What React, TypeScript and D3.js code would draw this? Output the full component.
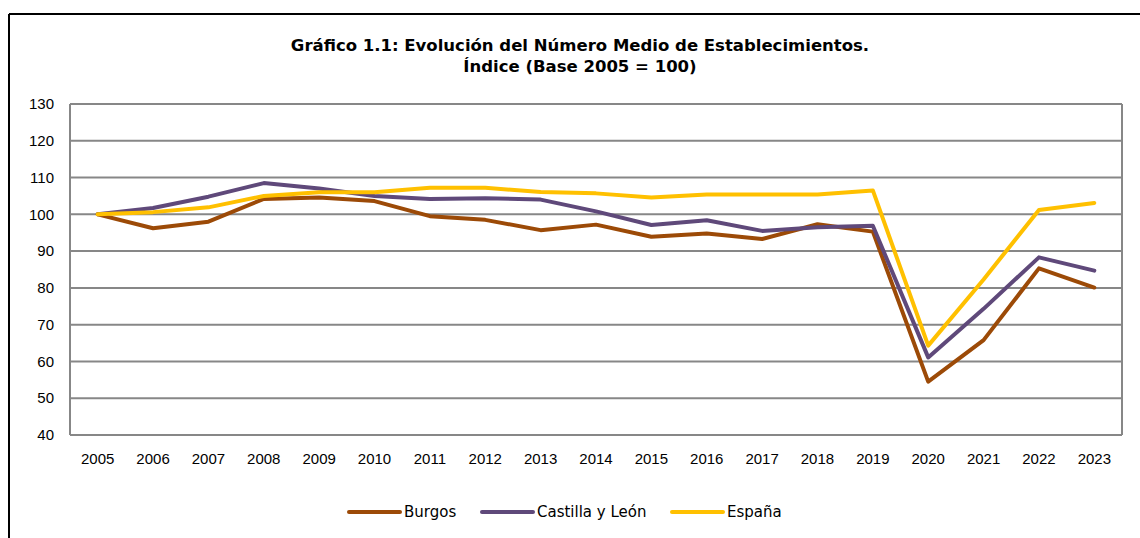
import React from "react";
import * as d3 from "d3";

const years = ["2005","2006","2007","2008","2009","2010","2011","2012","2013","2014","2015","2016","2017","2018","2019","2020","2021","2022","2023"];
const burgos = [100, 96.2, 98.0, 104.2, 104.6, 103.6, 99.5, 98.5, 95.7, 97.2, 93.9, 94.8, 93.3, 97.3, 95.3, 54.5, 65.8, 85.3, 80.1];
const castilla = [100, 101.7, 104.8, 108.5, 107.0, 105.0, 104.2, 104.4, 104.0, 100.8, 97.1, 98.4, 95.5, 96.5, 96.9, 61.1, 74.3, 88.3, 84.7];
const espana = [100, 100.6, 101.9, 105.0, 106.0, 106.0, 107.2, 107.2, 106.1, 105.7, 104.6, 105.4, 105.4, 105.4, 106.5, 64.3, 82.3, 101.2, 103.1];
const yTicks = [40, 50, 60, 70, 80, 90, 100, 110, 120, 130];
const seriesNames = ["Burgos", "Castilla y León", "España"];
const seriesColors = ["#9C4A07", "#5F497A", "#FFC000"];
const titleLines = ["Gráfico 1.1: Evolución del Número Medio de Establecimientos.", "Índice (Base 2005 = 100)"];

const axisFont = { fontFamily: "'Liberation Sans', Arimo, Arial, sans-serif", fontSize: "15px" };
const titleFont = { fontFamily: "'DejaVu Sans', sans-serif", fontSize: "16.5px", fontWeight: 700 };
const legendFont = { fontFamily: "'DejaVu Sans', sans-serif", fontSize: "15px" };

export default function App() {
  const W = 1140, H = 538;
  const left = 70, right = 1122, top = 104, bottom = 435;
  const x = d3.scaleBand<string>().domain(years).range([left, right]);
  const y = d3.scaleLinear().domain([40, 130]).range([bottom, top]);
  const line = d3.line<number>().x((_, i) => (x(years[i]) as number) + x.bandwidth() / 2).y((d) => y(d));
  const series = [burgos, castilla, espana];
  const legendX = [349, 482, 672];
  return (
    <div style={{ position: "absolute", left: 0, top: 0 }}>
      <svg width={W} height={H} style={{ display: "block" }}>
        <rect x={0} y={0} width={W} height={H} fill="#fff" />
        <line x1={9} y1={14} x2={W} y2={14} stroke="#000" strokeWidth={2} />
        <line x1={9} y1={14} x2={9} y2={H} stroke="#000" strokeWidth={2} />
        {titleLines.map((t, i) => (
          <text key={i} x={580} y={51 + i * 21} textAnchor="middle" style={titleFont} fill="#000">{t}</text>
        ))}
        {yTicks.map((v) => (
          <g key={v}>
            <line x1={left} x2={right} y1={y(v)} y2={y(v)} stroke="#878787" strokeWidth={2} />
            <text x={54} y={y(v)} dy="0.35em" textAnchor="end" style={axisFont} fill="#000">{v}</text>
          </g>
        ))}
        <line x1={left} x2={left} y1={top} y2={bottom} stroke="#878787" strokeWidth={2} />
        <line x1={right} x2={right} y1={top} y2={bottom} stroke="#878787" strokeWidth={2} />
        {years.map((yr) => (
          <text key={yr} x={(x(yr) as number) + x.bandwidth() / 2} y={464} textAnchor="middle" style={axisFont} fill="#000">{yr}</text>
        ))}
        {series.map((s, i) => (
          <path key={i} d={line(s) as string} fill="none" stroke={seriesColors[i]} strokeWidth={4} strokeLinejoin="round" strokeLinecap="round" />
        ))}
        {seriesNames.map((n, i) => (
          <g key={n}>
            <line x1={legendX[i]} x2={legendX[i] + 51} y1={512} y2={512} stroke={seriesColors[i]} strokeWidth={4} strokeLinecap="round" />
            <text x={legendX[i] + 55} y={512} dy="0.35em" style={legendFont} fill="#000">{n}</text>
          </g>
        ))}
      </svg>
    </div>
  );
}
